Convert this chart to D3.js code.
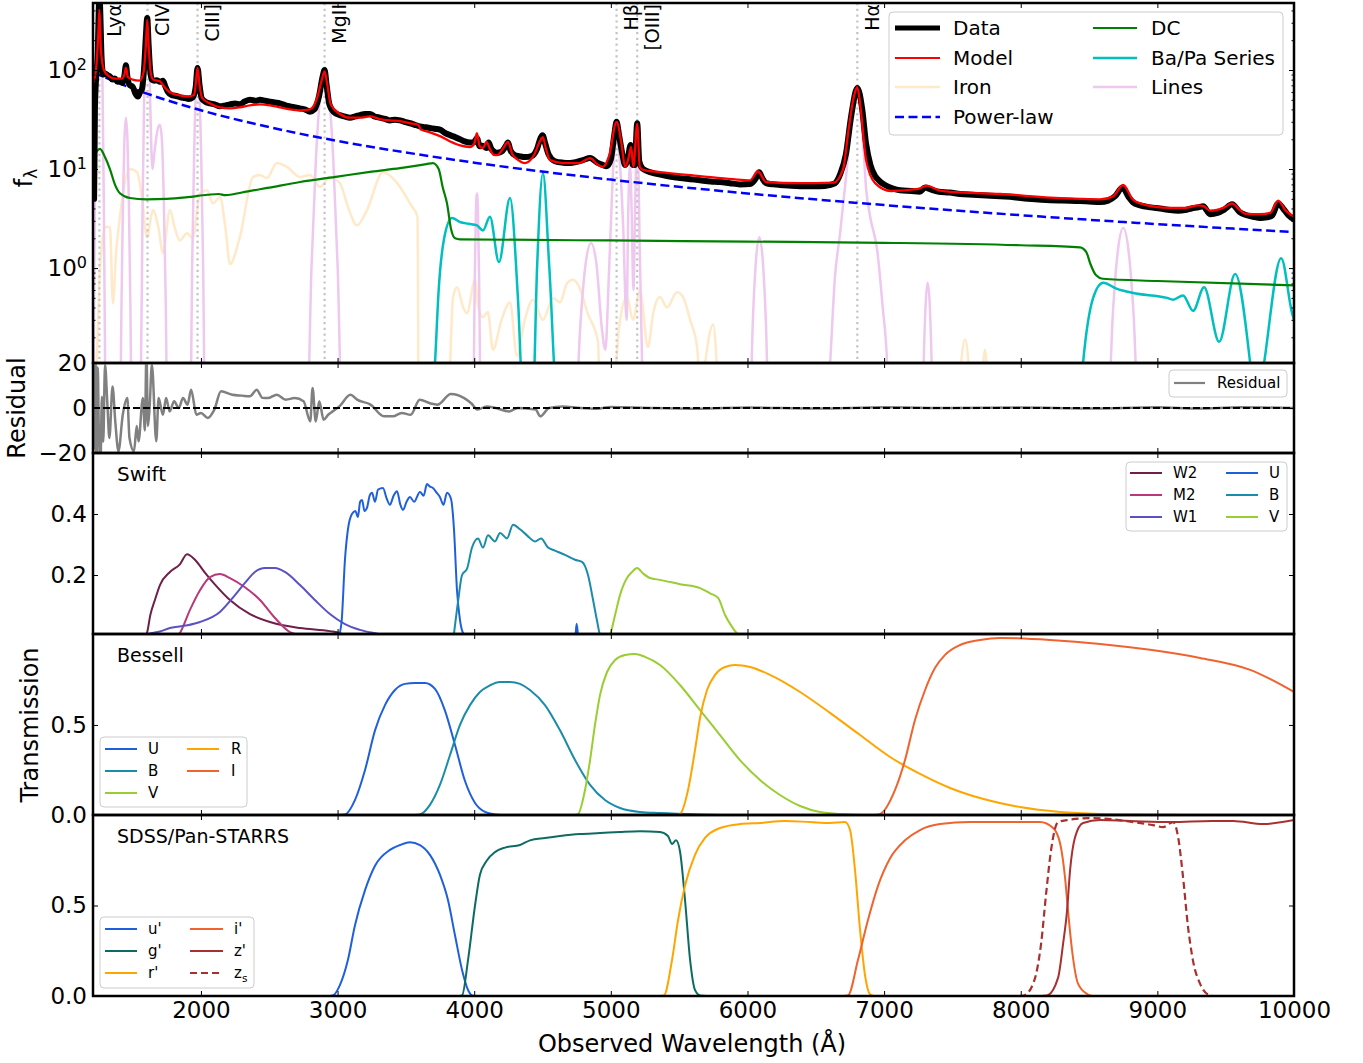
<!DOCTYPE html>
<html>
<head>
<meta charset="utf-8">
<script src="https://cdn.jsdelivr.net/npm/d3@7"></script>
<style>
body { margin: 0; background: #fff; }
text { font-family: "DejaVu Sans", sans-serif; fill: #000; }
</style>
</head>
<body>
<svg id="chart" width="1363" height="1063"></svg>
<script>
// ---------- data ----------
const xTicks = [2000, 3000, 4000, 5000, 6000, 7000, 8000, 9000, 10000];
const lineNames = ["Lyα", "CIV", "CIII]", "MgII", "Hβ", "[OIII]", "Hα"];
const lineWaves = [1257, 1609, 1975, 2905, 5042, 5193, 6804];

const dataSpec = [[1210,6],[1214,30],[1218,5],[1224,40],[1232,80],[1245,150],[1252,400],[1257,600],[1264,350],[1272,140],[1285,90],[1297,92],[1320,88],[1334,86],[1352,80],[1370,82],[1390,76],[1407,78],[1425,74],[1440,88],[1451,112],[1462,85],[1480,70],[1500,68],[1520,58],[1539,54],[1555,60],[1568,64],[1585,110],[1597,220],[1607,335],[1617,180],[1628,100],[1641,80],[1660,78],[1678,79],[1700,76],[1722,78],[1740,68],[1758,60],[1785,56],[1810,55],[1850,53],[1883,52],[1910,51],[1940,53],[1962,68],[1975,105],[1990,70],[2005,52],[2030,48],[2066,46],[2100,45],[2139,43],[2180,44],[2212,45],[2250,46],[2285,45],[2320,48],[2359,50],[2400,49],[2432,50],[2470,49],[2505,48],[2540,47],[2578,46],[2620,44],[2651,43],[2690,42],[2725,41],[2760,40],[2798,38],[2830,40],[2865,55],[2890,85],[2905,100],[2920,70],[2940,45],[2970,38],[3017,35],[3050,34],[3091,33],[3130,34],[3164,35],[3200,36],[3237,36],[3270,34],[3310,33],[3350,32],[3383,31],[3420,31.5],[3457,31],[3490,30],[3530,29],[3565,28],[3603,27],[3640,26.5],[3676,26],[3710,25.5],[3749,25],[3790,23],[3823,22],[3860,21],[3896,20],[3930,19],[3969,18.5],[3995,18.5],[4020,20.5],[4040,17],[4064,17.2],[4090,16.3],[4105,18.5],[4125,16],[4145,15],[4167,14.6],[4200,15],[4230,17],[4247,18.5],[4265,15.5],[4298,13.8],[4330,13.5],[4372,13.2],[4420,13.5],[4460,16],[4485,20.5],[4500,22],[4520,18],[4545,14],[4591,12],[4650,11.6],[4701,11.5],[4750,11.8],[4796,12.3],[4848,12.9],[4900,11.6],[4940,11],[4970,10.7],[5000,12.5],[5025,22],[5042,30],[5060,22],[5085,14],[5104,11],[5125,13],[5145,17.5],[5160,11],[5175,11],[5193,29],[5208,12],[5236,10],[5300,9.2],[5360,8.8],[5430,8.4],[5506,8.1],[5580,7.9],[5653,7.7],[5730,7.5],[5799,7.4],[5870,7.2],[5945,7.0],[6019,7.05],[6060,8],[6085,9.3],[6110,8],[6136,7.2],[6190,7.0],[6238,6.9],[6300,6.8],[6385,6.7],[6460,6.7],[6531,6.7],[6600,6.9],[6641,7.2],[6680,9],[6720,14],[6760,35],[6804,66],[6840,40],[6868,18],[6900,11],[6934,8.5],[6970,7.5],[7007,6.9],[7060,6.4],[7117,6.1],[7200,6.0],[7260,5.9],[7300,6.5],[7330,6.3],[7400,5.9],[7480,5.8],[7556,5.6],[7650,5.5],[7750,5.4],[7849,5.3],[7950,5.2],[8050,5.0],[8150,4.9],[8215,4.85],[8300,4.8],[8434,4.75],[8500,4.7],[8581,4.64],[8640,4.8],[8690,5.3],[8745,6.5],[8790,5.2],[8822,4.6],[8873,4.3],[8950,4.1],[9020,4.0],[9093,3.85],[9150,3.8],[9203,3.85],[9250,4.0],[9300,4.1],[9335,4.2],[9386,3.5],[9440,3.6],[9490,3.9],[9547,4.4],[9600,3.7],[9642,3.45],[9700,3.3],[9752,3.2],[9800,3.25],[9840,3.4],[9884,4.5],[9920,4.0],[9960,3.4],[10000,3.1]];

const modelSpec = [[1212,75],[1235,110],[1250,250],[1257,404],[1268,160],[1290,100],[1320,88],[1370,82],[1420,82],[1440,90],[1451,105],[1466,85],[1500,80],[1550,78],[1580,95],[1597,180],[1607,320],[1617,180],[1632,95],[1650,80],[1680,78],[1700,77],[1730,68],[1770,60],[1830,56],[1900,54],[1950,56],[1963,75],[1975,105],[1990,70],[2010,52],[2066,46],[2139,42],[2212,41],[2285,42],[2359,44],[2432,45],[2505,44],[2578,42],[2651,40],[2725,39],[2798,40],[2850,52],[2885,80],[2905,97],[2922,75],[2950,45],[3017,36],[3091,33],[3164,33],[3237,34],[3310,32],[3383,31],[3457,30.5],[3530,29],[3590,28],[3610,25],[3676,23.5],[3749,21.5],[3823,19],[3896,17.3],[3969,16.7],[4000,18],[4020,23],[4040,17],[4064,16.3],[4090,18.8],[4115,16],[4140,14],[4167,13.8],[4210,16],[4247,18.8],[4280,14],[4313,12.6],[4372,11.5],[4440,14],[4480,19],[4503,21],[4525,16],[4555,12.3],[4650,11.5],[4770,11.5],[4848,12.9],[4900,11.2],[4940,10.5],[4990,14],[5042,29.9],[5078,18],[5104,10.5],[5130,13],[5148,16.7],[5165,10.5],[5193,28.5],[5212,10.5],[5236,9.8],[5360,9.3],[5653,8.5],[5894,7.9],[6019,7.7],[6077,9.5],[6136,7.4],[6385,7.2],[6630,7.3],[6700,10],[6740,25],[6780,55],[6804,67],[6825,45],[6868,12.3],[6934,7.2],[7050,6.0],[7250,6.3],[7314,6.8],[7400,6.1],[7556,5.8],[7849,5.6],[8215,5.15],[8434,5.0],[8581,4.95],[8676,5.3],[8749,6.9],[8822,4.9],[8873,4.5],[9093,4.05],[9203,4.05],[9300,4.3],[9335,4.25],[9386,3.8],[9490,4.1],[9547,4.5],[9600,3.9],[9642,3.55],[9752,3.5],[9825,3.6],[9884,4.8],[9940,3.8],[10000,3.3]];

const ironSpec = [[1210,0.02],[1240,0.15],[1261,1.0],[1300,2.6],[1334,2.6],[1356,0.44],[1380,1.5],[1407,3.3],[1440,7],[1480,10],[1532,9.3],[1570,5],[1605,2.05],[1649,3.85],[1690,2.5],[1722,1.42],[1773,3.85],[1810,2.5],[1846,1.9],[1898,2.25],[1941,2.0],[1993,5.7],[2044,6.1],[2088,4.5],[2139,5.2],[2180,2.5],[2212,1.1],[2285,2.05],[2381,8.3],[2432,8.7],[2483,8.1],[2556,11.5],[2630,10.5],[2725,8.3],[2798,8.7],[2871,6.6],[2944,8.3],[3017,7.2],[3080,4],[3142,2.7],[3215,3.85],[3332,9.3],[3457,6.6],[3530,4.5],[3585,3.3],[3595,0.02],[3800,0.02],[3845,0.5],[3874,0.64],[3920,0.4],[3947,0.35],[4006,0.76],[4030,0.4],[4064,0.32],[4100,0.36],[4137,0.15],[4200,0.3],[4262,0.45],[4313,0.13],[4370,0.3],[4430,0.48],[4503,0.3],[4577,0.5],[4628,0.45],[4679,0.7],[4723,0.76],[4774,0.62],[4830,0.35],[4906,0.18],[4921,0.05],[5016,0.05],[5060,0.25],[5118,0.51],[5162,0.3],[5213,0.6],[5272,0.16],[5310,0.35],[5360,0.51],[5411,0.4],[5484,0.57],[5528,0.51],[5580,0.3],[5631,0.16],[5660,0.05],[5690,0.11],[5748,0.27],[5780,0.08],[5800,0.02],[7500,0.02],[7593,0.19],[7650,0.05],[7700,0.05],[7739,0.15],[7780,0.02],[10000,0.02]];

const linesSpec = [[1210,0.02],[1216,0.2],[1225,6.7],[1234,81],[1243,364],[1257,600],[1270,364],[1279,81],[1288,6.7],[1297,0.2],[1305,0.02],[1407,0.02],[1418,0.37],[1429,4.45],[1440,20],[1451,33],[1462,20],[1473,4.45],[1484,0.37],[1495,0.02],[1561,0.1],[1572,3.3],[1583,40],[1596,182],[1609,300],[1620,182],[1630,40],[1645,10],[1660,15],[1686,26],[1700,28],[1714,20],[1728,5],[1742,0.5],[1756,0.02],[1922,0.03],[1936,1.1],[1950,13.5],[1962,61],[1975,100],[1988,61],[2002,13.5],[2016,1.1],[2030,0.03],[2777,0.03],[2809,1.0],[2841,12.2],[2873,55],[2905,90],[2937,55],[2969,12.2],[3001,1.0],[3033,0.03],[3990,0.02],[3996,0.063],[4004,0.77],[4012,3.46],[4020,5.7],[4028,3.46],[4036,0.77],[4044,0.063],[4050,0.02],[4735,0.02],[4775,0.24],[4815,1.09],[4855,1.79],[4895,1.09],[4935,0.24],[4960,0.15],[4985,0.8],[5000,2.7],[5020,12],[5042,20],[5065,12],[5090,2.7],[5115,0.3],[5128,4],[5140,11],[5152,4],[5165,0.6],[5178,4],[5186,15],[5193,25],[5200,15],[5210,2],[5225,0.2],[5240,0.02],[6015,0.023],[6039,0.28],[6063,1.24],[6087,2.05],[6111,1.24],[6135,0.28],[6159,0.023],[6570,0.02],[6605,0.11],[6640,0.8],[6678,2.25],[6720,8],[6760,30],[6804,60],[6840,25],[6870,6],[6898,3.3],[6950,1.5],[6990,0.4],[7022,0.11],[7040,0.02],[7280,0.02],[7289,0.096],[7304,0.43],[7319,0.71],[7334,0.43],[7349,0.096],[7360,0.02],[8636,0.028],[8674,0.34],[8712,1.54],[8750,2.54],[8788,1.54],[8826,0.34],[8864,0.028],[10000,0.02]];

const baPaSpec = [[3650,0.01],[3713,0.11],[3740,0.6],[3780,2.0],[3837,3.2],[3900,2.9],[3960,2.8],[4020,2.7],[4064,2.4],[4115,3.3],[4181,1.15],[4262,5.1],[4320,0.5],[4357,0.05],[4430,0.05],[4460,1.0],[4503,9.1],[4550,1.0],[4606,0.05],[8400,0.01],[8456,0.11],[8530,0.5],[8603,0.71],[8700,0.62],[8822,0.56],[9071,0.50],[9115,0.48],[9188,0.53],[9261,0.37],[9342,0.64],[9452,0.18],[9569,0.87],[9679,0.11],[9720,0.03],[9781,0.11],[9906,1.26],[9986,0.35],[10000,0.3]];

const dcSpec = [[1210,13],[1261,16],[1300,13],[1334,10],[1370,7],[1407,5.7],[1480,5.1],[1600,4.95],[1750,5.0],[1900,5.2],[2050,5.5],[2130,5.6],[2180,5.45],[2300,5.8],[2500,6.5],[2725,7.4],[3000,8.4],[3250,9.4],[3457,10.2],[3650,11.2],[3698,11.5],[3740,10],[3770,6.5],[3801,4.5],[3830,2.5],[3860,2.0],[3896,1.95],[5000,1.9],[6000,1.85],[7000,1.8],[8000,1.7],[8434,1.62],[8480,1.45],[8510,1.1],[8550,0.85],[8600,0.78],[9000,0.74],[10000,0.67]];

const powerLaw = [[1210,95],[1500,65.1],[2000,39.2],[2500,26.5],[3000,19.2],[3500,14.7],[4000,11.6],[5000,7.82],[6000,5.67],[7000,4.33],[8000,3.42],[9000,2.78],[10000,2.31]];

const residSpec = [[1210,-25],[1216,22],[1222,-18],[1228,25],[1235,-25],[1245,18],[1252,-8],[1265,-25],[1275,5],[1285,-15],[1298,19.2],[1315,2],[1330,-13.3],[1353,9.6],[1373,-5.9],[1396,-19.2],[1428,-3],[1461,4.4],[1477,-13.3],[1510,-19.2],[1530,-8],[1543,-14.8],[1575,4.4],[1590,-10],[1601,25],[1612,-8],[1624,0],[1641,19.2],[1673,-14.8],[1690,4.4],[1722,-3],[1745,4.4],[1771,-1.5],[1804,3],[1837,0],[1869,4.4],[1902,1.5],[1928,8.1],[1967,-3],[2000,-2.2],[2049,-4.4],[2098,-0.7],[2147,7.4],[2229,5.9],[2300,5.5],[2359,5.2],[2408,8.1],[2450,4.5],[2490,4.4],[2555,5.9],[2621,3.7],[2686,4.4],[2751,3],[2800,-5.9],[2817,8.9],[2840,-6],[2866,3],[2898,-5.2],[2931,-3],[2964,-1.5],[3013,0.7],[3094,5.9],[3143,3.7],[3241,1.5],[3339,-3.7],[3405,-3.7],[3470,-2.2],[3535,-3],[3601,3.7],[3680,2],[3731,1.5],[3829,6.2],[3927,4.4],[3980,2],[4025,-0.7],[4091,0.7],[4156,0],[4254,-1.5],[4320,0],[4450,-0.7],[4483,-3.7],[4548,0],[4646,0.7],[4777,0],[4900,-0.3],[5000,0.5],[5104,0.3],[5300,0],[5653,-0.3],[6000,0.2],[6500,-0.2],[7000,0.3],[7500,0],[8000,0.2],[8500,-0.2],[9000,0.3],[9300,-0.2],[9600,0.3],[10000,0]];

// Swift UVOT
const swW2 = [[1590,0],[1605,0.01],[1630,0.07],[1663,0.118],[1700,0.167],[1773,0.21],[1846,0.235],[1898,0.268],[1956,0.25],[2029,0.208],[2100,0.17],[2212,0.118],[2359,0.072],[2505,0.046],[2725,0.026],[2944,0.016],[3017,0.01],[3050,0]];
const swM2 = [[1830,0],[1846,0.01],[1919,0.085],[1993,0.15],[2066,0.193],[2139,0.203],[2212,0.19],[2322,0.16],[2432,0.118],[2542,0.059],[2651,0.013],[2725,0.003],[2760,0]];
const swW1 = [[1590,0],[1605,0.005],[1700,0.015],[1773,0.026],[1900,0.035],[1993,0.046],[2139,0.079],[2249,0.134],[2322,0.174],[2395,0.21],[2469,0.223],[2542,0.223],[2615,0.21],[2725,0.167],[2834,0.118],[2944,0.072],[3054,0.039],[3164,0.02],[3310,0.005],[3350,0]];
const swU = [[3010,0],[3030,0.05],[3054,0.25],[3076,0.35],[3105,0.4],[3130,0.41],[3149,0.39],[3165,0.44],[3179,0.446],[3197,0.41],[3215,0.42],[3235,0.46],[3252,0.47],[3274,0.44],[3296,0.48],[3332,0.485],[3360,0.45],[3383,0.43],[3410,0.46],[3435,0.475],[3460,0.43],[3479,0.413],[3505,0.44],[3530,0.456],[3560,0.44],[3603,0.472],[3630,0.46],[3654,0.498],[3676,0.49],[3698,0.485],[3725,0.47],[3749,0.456],[3775,0.43],[3801,0.47],[3830,0.45],[3852,0.35],[3874,0.15],[3896,0.052],[3918,0.01],[3940,0],[4740,0],[4750,0.04],[4760,0]];
const swB = [[3850,0],[3881,0.11],[3911,0.2],[3947,0.22],[3984,0.29],[4028,0.32],[4064,0.29],[4101,0.33],[4152,0.31],[4189,0.338],[4240,0.32],[4284,0.365],[4335,0.35],[4386,0.33],[4445,0.31],[4489,0.32],[4540,0.29],[4591,0.28],[4664,0.266],[4738,0.25],[4789,0.243],[4833,0.2],[4870,0.118],[4899,0.05],[4921,0.005],[4940,0]];
const swV = [[4980,0],[4994,0.005],[5031,0.069],[5067,0.134],[5118,0.19],[5155,0.21],[5192,0.223],[5236,0.205],[5287,0.19],[5360,0.184],[5506,0.17],[5653,0.157],[5726,0.14],[5785,0.125],[5836,0.069],[5887,0.03],[5931,0.005],[5950,0]];

// Bessell
const bsU = [[3000,0],[3054,0.003],[3127,0.083],[3201,0.25],[3274,0.47],[3347,0.61],[3420,0.694],[3493,0.728],[3566,0.733],[3640,0.733],[3713,0.7],[3786,0.58],[3859,0.39],[3932,0.19],[4006,0.067],[4079,0.017],[4152,0.003],[4200,0]];
const bsB = [[3560,0],[3603,0.003],[3676,0.056],[3749,0.167],[3823,0.333],[3896,0.5],[3969,0.61],[4042,0.683],[4115,0.72],[4189,0.739],[4262,0.739],[4335,0.728],[4408,0.694],[4518,0.61],[4628,0.47],[4738,0.305],[4848,0.167],[4957,0.083],[5067,0.039],[5213,0.017],[5360,0.011],[5653,0.003],[5800,0]];
const bsV = [[4730,0],[4760,0.005],[4811,0.139],[4848,0.305],[4884,0.5],[4921,0.667],[4972,0.794],[5031,0.861],[5104,0.889],[5177,0.894],[5250,0.878],[5360,0.833],[5506,0.722],[5653,0.583],[5799,0.444],[5945,0.305],[6092,0.194],[6238,0.111],[6385,0.05],[6531,0.017],[6751,0.003],[6900,0]];
const bsR = [[5480,0],[5506,0.005],[5565,0.139],[5616,0.36],[5653,0.54],[5704,0.694],[5763,0.778],[5836,0.822],[5909,0.833],[6019,0.822],[6165,0.778],[6385,0.683],[6604,0.567],[6824,0.444],[7044,0.322],[7263,0.228],[7483,0.15],[7702,0.094],[7995,0.044],[8288,0.017],[8581,0.006],[8947,0.002],[9200,0]];
const bsI = [[6930,0],[6970,0.005],[7080,0.139],[7153,0.305],[7226,0.528],[7300,0.694],[7373,0.817],[7446,0.889],[7556,0.944],[7702,0.972],[7849,0.983],[8215,0.972],[8581,0.95],[8947,0.917],[9313,0.872],[9679,0.806],[10000,0.683]];

// SDSS / Pan-STARRS
const sdU = [[2940,0],[2966,0.003],[3017,0.06],[3076,0.2],[3127,0.39],[3201,0.585],[3274,0.72],[3383,0.807],[3457,0.834],[3530,0.85],[3603,0.834],[3676,0.78],[3749,0.67],[3808,0.53],[3859,0.337],[3911,0.144],[3955,0.033],[3984,0.003],[4010,0]];
const sdG = [[3890,0],[3911,0.003],[3955,0.2],[4006,0.5],[4042,0.67],[4094,0.75],[4152,0.795],[4225,0.82],[4335,0.834],[4408,0.86],[4518,0.873],[4628,0.884],[4774,0.895],[4921,0.9],[5067,0.906],[5213,0.91],[5360,0.906],[5418,0.884],[5448,0.84],[5477,0.86],[5506,0.8],[5543,0.53],[5580,0.2],[5616,0.033],[5653,0.003],[5700,0]];
const sdR = [[5360,0],[5389,0.003],[5448,0.2],[5492,0.42],[5543,0.61],[5616,0.78],[5689,0.873],[5799,0.928],[5945,0.95],[6092,0.956],[6275,0.967],[6458,0.961],[6604,0.956],[6714,0.961],[6751,0.917],[6787,0.696],[6824,0.365],[6860,0.116],[6897,0.01],[6930,0]];
const sdI = [[6700,0],[6736,0.003],[6809,0.2],[6882,0.42],[6956,0.61],[7043,0.76],[7153,0.86],[7263,0.917],[7409,0.95],[7629,0.961],[7849,0.961],[8068,0.961],[8141,0.961],[8237,0.928],[8288,0.844],[8324,0.656],[8346,0.472],[8376,0.25],[8420,0.067],[8486,0.011],[8520,0]];
const sdZ = [[8150,0],[8193,0.003],[8273,0.1],[8310,0.289],[8339,0.472],[8361,0.694],[8398,0.878],[8456,0.956],[8581,0.972],[8800,0.967],[9100,0.961],[9400,0.967],[9554,0.967],[9774,0.95],[10000,0.972]];
const sdZs = [[7990,0],[8024,0.003],[8098,0.083],[8149,0.289],[8186,0.567],[8222,0.806],[8273,0.961],[8339,0.972],[8530,0.983],[8822,0.961],[8969,0.944],[9042,0.933],[9115,0.961],[9152,0.878],[9188,0.656],[9225,0.378],[9261,0.194],[9313,0.067],[9386,0.003],[9420,0]];

// ---------- layout ----------
const svg = d3.select("#chart");
const left = 93, right = 1294;
const x = d3.scaleLinear().domain([1210, 10000]).range([left, right]);

const blue = "#1f5fdc", teal = "#1a8caa", lime = "#9acd32", orange = "#ffa500", red2 = "#f0622e", brick = "#a8302e";
const tickFont = 23;

function makePanel(id, top, bottom, y) {
  svg.append("clipPath").attr("id", "clip-" + id)
    .append("rect").attr("x", left).attr("y", top).attr("width", right - left).attr("height", bottom - top);
  const g = svg.append("g");
  const plot = g.append("g").attr("clip-path", `url(#clip-${id})`);
  return { id, top, bottom, y, g, plot };
}

function curve(p, pts, color, width, dash) {
  p.plot.append("path").datum(pts)
    .attr("fill", "none").attr("stroke", color).attr("stroke-width", width)
    .attr("stroke-dasharray", dash || null).attr("stroke-linejoin", "round")
    .attr("d", d3.line().x(d => x(d[0])).y(d => p.y(d[1])).curve(d3.curveMonotoneX));
}

function axes(p, yTicks, yFmt, minorTicks, xLabels) {
  const clean = sel => { sel.select(".domain").remove(); sel.selectAll("line").attr("stroke", "#000").attr("stroke-width", 1); };
  p.g.append("g").attr("transform", `translate(0,${p.bottom})`)
    .call(d3.axisBottom(x).tickValues(xTicks).tickSize(-5).tickPadding(6).tickFormat(xLabels ? d3.format("d") : ""))
    .call(clean).selectAll("text").attr("font-size", tickFont).attr("font-family", "DejaVu Sans").attr("fill", "#000");
  p.g.append("g").attr("transform", `translate(0,${p.top})`)
    .call(d3.axisTop(x).tickValues(xTicks).tickSize(-5).tickFormat("")).call(clean);
  const yl = p.g.append("g").attr("transform", `translate(${left},0)`)
    .call(d3.axisLeft(p.y).tickValues(yTicks).tickSize(-5).tickPadding(6).tickFormat(yFmt)).call(clean);
  yl.selectAll("text").attr("font-size", tickFont).attr("font-family", "DejaVu Sans").attr("fill", "#000");
  p.g.append("g").attr("transform", `translate(${right},0)`)
    .call(d3.axisRight(p.y).tickValues(yTicks).tickSize(-5).tickFormat("")).call(clean);
  if (minorTicks) {
    p.g.append("g").attr("transform", `translate(${left},0)`)
      .call(d3.axisLeft(p.y).tickValues(minorTicks).tickSize(-2.5).tickFormat("")).call(clean);
    p.g.append("g").attr("transform", `translate(${right},0)`)
      .call(d3.axisRight(p.y).tickValues(minorTicks).tickSize(-2.5).tickFormat("")).call(clean);
  }
  return yl;
}

function frame(p) {
  p.g.append("rect").attr("x", left).attr("y", p.top).attr("width", right - left).attr("height", p.bottom - p.top)
    .attr("fill", "none").attr("stroke", "#000").attr("stroke-width", 2.5);
}

function legend(box, items, fs) {
  const g = svg.append("g");
  g.append("rect").attr("x", box[0]).attr("y", box[1]).attr("width", box[2]).attr("height", box[3])
    .attr("rx", 4).attr("fill", "#fff").attr("fill-opacity", 0.85).attr("stroke", "#cccccc").attr("stroke-width", 1);
  items.forEach(it => {
    g.append("line").attr("x1", it.x1).attr("x2", it.x2).attr("y1", it.y).attr("y2", it.y)
      .attr("stroke", it.color).attr("stroke-width", it.w).attr("stroke-dasharray", it.dash || null);
    const t = g.append("text").attr("x", it.tx).attr("y", it.y).attr("dy", "0.36em").attr("font-size", fs);
    t.append("tspan").text(it.label);
    if (it.sub) t.append("tspan").attr("dy", "0.3em").attr("font-size", fs * 0.7).text(it.sub);
  });
}

// ---------- main spectrum panel ----------
const yMain = d3.scaleLog().domain([0.11, 475]).range([363, 3]);
const pMain = makePanel("main", 3, 363, yMain);
curve(pMain, ironSpec, "#ffe9c8", 2.5);
curve(pMain, linesSpec, "#efc8ef", 2.5);
lineWaves.forEach(w => {
  pMain.plot.append("line").attr("x1", x(w)).attr("x2", x(w)).attr("y1", 3).attr("y2", 363)
    .attr("stroke", "#c4c4c4").attr("stroke-width", 2.2).attr("stroke-dasharray", "2.2,3.6");
});
curve(pMain, baPaSpec, "#00bfbf", 2.5);
curve(pMain, dcSpec, "#008000", 2.2);
curve(pMain, powerLaw, "#0000ff", 2.5, "9,4.5");
curve(pMain, dataSpec, "#000", 6);
curve(pMain, modelSpec, "#ff0000", 2.3);

const minorMain = [];
[0.1, 1, 10, 100].forEach(dec => d3.range(2, 10).forEach(k => { const v = k * dec; if (v > 0.11 && v < 475) minorMain.push(v); }));
const ylMain = axes(pMain, [1, 10, 100], d => d, minorMain, false);
ylMain.selectAll("text").each(function(d) {
  const t = d3.select(this);
  t.text(null);
  t.append("tspan").text("10");
  t.append("tspan").attr("dy", "-0.5em").attr("font-size", 16).text(Math.round(Math.log10(d)));
});
frame(pMain);

lineNames.forEach((n, i) => {
  svg.append("text").attr("transform", `translate(${x(lineWaves[i]) + 15},4) rotate(-90)`)
    .attr("text-anchor", "end").attr("dy", "0.36em").attr("font-size", 19).text(n);
});

legend([889, 12, 394, 123], [
  { label: "Data", color: "#000", w: 5, x1: 895, x2: 940, tx: 953, y: 28 },
  { label: "Model", color: "#ff0000", w: 2.2, x1: 895, x2: 940, tx: 953, y: 58 },
  { label: "Iron", color: "#ffe9c8", w: 2.5, x1: 895, x2: 940, tx: 953, y: 87 },
  { label: "Power-law", color: "#0000ff", w: 2.5, dash: "9,4.5", x1: 895, x2: 940, tx: 953, y: 117 },
  { label: "DC", color: "#008000", w: 2.2, x1: 1093, x2: 1137, tx: 1151, y: 28 },
  { label: "Ba/Pa Series", color: "#00bfbf", w: 2.5, x1: 1093, x2: 1137, tx: 1151, y: 58 },
  { label: "Lines", color: "#efc8ef", w: 2.5, x1: 1093, x2: 1137, tx: 1151, y: 87 }
], 20);

// ---------- residual panel ----------
const yRes = d3.scaleLinear().domain([-20, 20]).range([453, 363]);
const pRes = makePanel("res", 363, 453, yRes);
curve(pRes, residSpec, "#808080", 2.5);
pRes.plot.append("line").attr("x1", left).attr("x2", right).attr("y1", yRes(0)).attr("y2", yRes(0))
  .attr("stroke", "#000").attr("stroke-width", 2).attr("stroke-dasharray", "7,3");
axes(pRes, [-20, 0, 20], d3.format("d"), null, false);
frame(pRes);
legend([1169, 370, 118, 27], [{ label: "Residual", color: "#808080", w: 2.2, x1: 1174, x2: 1205, tx: 1217, y: 383 }], 15);

// ---------- Swift panel ----------
const ySw = d3.scaleLinear().domain([0.0066, 0.6]).range([634, 453]);
const pSw = makePanel("sw", 453, 634, ySw);
curve(pSw, swW2, "#6e1f4c", 2);
curve(pSw, swM2, "#b8387a", 2);
curve(pSw, swW1, "#5a52c4", 2);
curve(pSw, swU, blue, 2);
curve(pSw, swB, teal, 2);
curve(pSw, swV, lime, 2);
axes(pSw, [0.2, 0.4], d3.format(".1f"), null, false);
frame(pSw);
svg.append("text").attr("x", 117).attr("y", 481).attr("font-size", 20).text("Swift");
legend([1126, 462, 161, 69], [
  { label: "W2", color: "#6e1f4c", w: 2, x1: 1130, x2: 1162, tx: 1173, y: 473 },
  { label: "M2", color: "#b8387a", w: 2, x1: 1130, x2: 1162, tx: 1173, y: 495 },
  { label: "W1", color: "#5a52c4", w: 2, x1: 1130, x2: 1162, tx: 1173, y: 517 },
  { label: "U", color: blue, w: 2, x1: 1226, x2: 1258, tx: 1269, y: 473 },
  { label: "B", color: teal, w: 2, x1: 1226, x2: 1258, tx: 1269, y: 495 },
  { label: "V", color: lime, w: 2, x1: 1226, x2: 1258, tx: 1269, y: 517 }
], 15);

// ---------- Bessell panel ----------
const yBs = d3.scaleLinear().domain([0, 1.005]).range([815, 634]);
const pBs = makePanel("bs", 634, 815, yBs);
curve(pBs, bsU, blue, 2);
curve(pBs, bsB, teal, 2);
curve(pBs, bsV, lime, 2);
curve(pBs, bsR, orange, 2);
curve(pBs, bsI, red2, 2);
axes(pBs, [0, 0.5], d3.format(".1f"), null, false);
frame(pBs);
svg.append("text").attr("x", 117).attr("y", 662).attr("font-size", 19).text("Bessell");
legend([100, 737, 147, 70], [
  { label: "U", color: blue, w: 2, x1: 105, x2: 137, tx: 148, y: 749 },
  { label: "B", color: teal, w: 2, x1: 105, x2: 137, tx: 148, y: 771 },
  { label: "V", color: lime, w: 2, x1: 105, x2: 137, tx: 148, y: 793 },
  { label: "R", color: orange, w: 2, x1: 187, x2: 219, tx: 231, y: 749 },
  { label: "I", color: red2, w: 2, x1: 187, x2: 219, tx: 231, y: 771 }
], 15);

// ---------- SDSS / Pan-STARRS panel ----------
const ySd = d3.scaleLinear().domain([0, 1.0]).range([996, 815]);
const pSd = makePanel("sd", 815, 996, ySd);
curve(pSd, sdU, blue, 2);
curve(pSd, sdG, "#0d6b63", 2);
curve(pSd, sdR, orange, 2);
curve(pSd, sdI, red2, 2);
curve(pSd, sdZ, brick, 2);
curve(pSd, sdZs, brick, 2.2, "7,4");
axes(pSd, [0, 0.5], d3.format(".1f"), null, true);
frame(pSd);
svg.append("text").attr("x", 117).attr("y", 843).attr("font-size", 19).text("SDSS/Pan-STARRS");
legend([100, 917, 154, 71], [
  { label: "u'", color: blue, w: 2, x1: 105, x2: 137, tx: 148, y: 929 },
  { label: "g'", color: "#0d6b63", w: 2, x1: 105, x2: 137, tx: 148, y: 951 },
  { label: "r'", color: orange, w: 2, x1: 105, x2: 137, tx: 148, y: 973 },
  { label: "i'", color: red2, w: 2, x1: 190, x2: 223, tx: 234, y: 929 },
  { label: "z'", color: brick, w: 2, x1: 190, x2: 223, tx: 234, y: 951 },
  { label: "z", sub: "s", color: brick, w: 2.2, dash: "7,4", x1: 190, x2: 223, tx: 234, y: 973 }
], 15);

// ---------- axis titles ----------
const fl = svg.append("text").attr("transform", "translate(32,178) rotate(-90)").attr("text-anchor", "middle").attr("font-size", 24);
fl.append("tspan").text("f");
fl.append("tspan").attr("dy", "0.3em").attr("font-size", 17).text("λ");
svg.append("text").attr("transform", "translate(25,408) rotate(-90)").attr("text-anchor", "middle").attr("font-size", 24).text("Residual");
svg.append("text").attr("transform", "translate(38,725) rotate(-90)").attr("text-anchor", "middle").attr("font-size", 24).text("Transmission");
svg.append("text").attr("x", 692).attr("y", 1052).attr("text-anchor", "middle").attr("font-size", 24).text("Observed Wavelength (Å)");
</script>
</body>
</html>
